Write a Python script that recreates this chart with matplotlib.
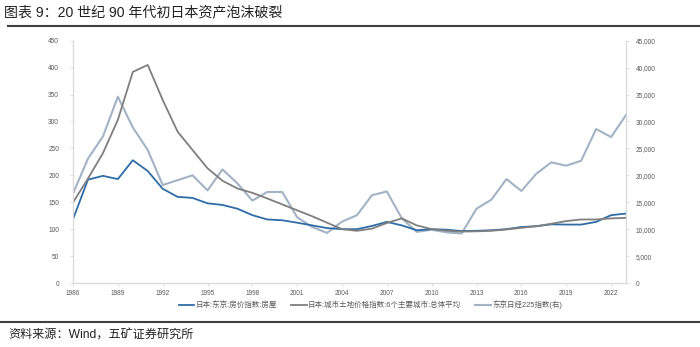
import numpy as np
import matplotlib
matplotlib.use('Agg')
import matplotlib.pyplot as plt
from matplotlib.ticker import FuncFormatter, MultipleLocator

plt.rcParams['font.family'] = ['Liberation Sans', 'Noto Sans CJK SC', 'DejaVu Sans']

# 年份
years = list(range(1986, 2024))

# 日本:东京:房价指数:房屋
house = [118.5, 192, 199, 193, 228, 208, 175, 160, 158, 148,
         145, 138, 126, 118, 116.5, 112, 107, 102, 100, 100,
         106, 113.5, 107, 98, 100, 99, 96.5, 97, 98, 100,
         104, 105.5, 109, 108.5, 108.5, 113.5, 126, 129]

# 日本:城市土地价格指数:6个主要城市:总体平均
land = [149.5, 194, 241, 303, 392, 405, 340, 281, 247, 213,
        190, 175.5, 167.5, 157, 146, 135, 124, 112, 100, 97,
        101, 111.5, 120, 107, 100, 97, 95.5, 96, 97, 99.5,
        102.5, 105.5, 110, 115, 118, 118, 120, 121]

# 东京日经225指数(右)
nikkei = [16600, 23100, 27200, 34600, 28900, 24700, 18200, 19100, 20000, 17200,
          21100, 18500, 15300, 16900, 16900, 12200, 10400, 9300, 11400, 12600,
          16300, 17000, 12000, 9500, 9900, 9400, 9200, 13800, 15500, 19300,
          17100, 20300, 22400, 21800, 22700, 28600, 27100, 31200]

labels = ['日本:东京:房价指数:房屋',
          '日本:城市土地价格指数:6个主要城市:总体平均',
          '东京日经225指数(右)']

c_blue = '#2E6CA8'
c_grey = '#7F7F7F'
c_light = '#A3B3C4'
axis_c = '#D9D9D9'
txt_c = '#595959'

fig = plt.figure(figsize=(7, 3.47), dpi=100)
ax = fig.add_axes([0.1043, 0.1844, 0.79, 0.6983])
ax2 = ax.twinx()

l1, = ax.plot(years, house, color=c_blue, lw=1.3, label=labels[0])
l2, = ax.plot(years, land, color=c_grey, lw=1.3, label=labels[1])
l3, = ax2.plot(years, nikkei, color=c_light, lw=1.5, label=labels[2])
ax.set_zorder(ax2.get_zorder() + 1)
ax.patch.set_visible(False)

ax.set_xlim(1986, 2023)
ax.set_ylim(0, 450)
ax2.set_ylim(0, 45000)
ax.yaxis.set_major_locator(MultipleLocator(50))
ax2.yaxis.set_major_locator(MultipleLocator(5000))
ax2.yaxis.set_major_formatter(FuncFormatter(lambda v, p: f'{int(v):,}'))
ax.set_xticks(range(1986, 2024, 3))

for a in (ax, ax2):
    a.spines['top'].set_visible(False)
    for s in ('left', 'right', 'bottom'):
        a.spines[s].set_color(axis_c)
        a.spines[s].set_linewidth(0.8)
    a.tick_params(axis='both', labelsize=4.7, labelcolor=txt_c, color=axis_c,
                  length=2, width=0.6, pad=3)
ax.tick_params(axis='y', pad=8)
ax2.tick_params(axis='y', pad=5)

fig.legend(handles=[l1, l2, l3], labels=labels, loc='center left', ncol=3,
           bbox_to_anchor=(0.255, 0.121), frameon=False, fontsize=5.4,
           labelcolor=txt_c, handlelength=2.1, handletextpad=0.15,
           columnspacing=1.9, borderaxespad=0, borderpad=0)

# 标题与分隔线
fig.text(0.005, 0.965, '图表 9：20 世纪 90 年代初日本资产泡沫破裂',
         fontsize=10.1, color='#222222', va='center', ha='left')
fig.add_artist(plt.Line2D([0.012, 1.0], [0.924, 0.924], color='#404040', lw=1.5))
fig.add_artist(plt.Line2D([0.0, 1.0], [0.073, 0.073], color='#404040', lw=1.5))
fig.text(0.012, 0.032, '资料来源：Wind，五矿证券研究所', fontsize=8.7,
         color='#222222', va='center', ha='left')

fig.savefig('out.png', dpi=100)
